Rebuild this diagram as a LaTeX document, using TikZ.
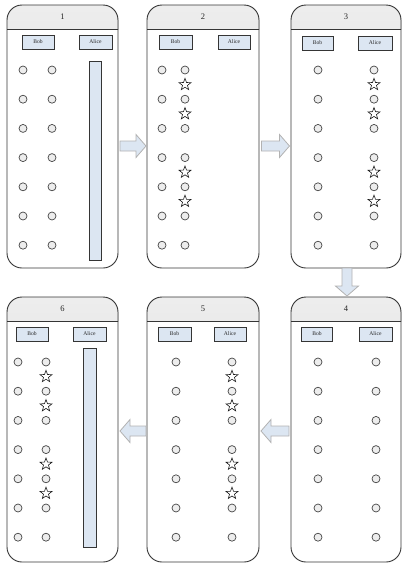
\documentclass[tikz,border=0pt]{standalone}
\usepackage{fontspec}
\setmainfont{Liberation Serif}
\usetikzlibrary{shapes.geometric}
\definecolor{boxblue}{HTML}{DCE6F2}
\definecolor{linegray}{HTML}{353535}
\tikzset{
  panelframe/.style={draw=linegray, line width=0.9pt, rounded corners=15pt},
  hdrfill/.style={top color=gray!14, bottom color=gray!36},
  namebox/.style={draw=linegray, fill=boxblue, line width=0.7pt, minimum height=14pt, inner sep=0pt, text=gray!30!black, font=\fontsize{5.6}{6}\selectfont},
  dot/.style={circle, draw=gray!55!black, fill=gray!14, line width=0.7pt, minimum size=8pt, inner sep=0pt},
  starnode/.style={star, star points=5, star point ratio=2.4, draw=gray!20!black, fill=white, line width=0.6pt, minimum size=12.5pt, inner sep=0pt},
  alicebar/.style={draw=linegray, fill=boxblue, line width=0.7pt},
  blockarrpath/.style={draw=gray!60, fill=boxblue, line width=0.8pt, line join=miter},
  hdrlabel/.style={font=\fontsize{8.5}{9}\selectfont, text=gray!30!black}
}
\newcommand\panelbox[7]{%
  \begin{scope}
    \clip (#2,#4) rectangle (#3,#5);
    \fill[hdrfill, rounded corners=15pt] (#2,#4) rectangle (#3,#6);
  \end{scope}
  \draw[linegray, line width=0.9pt] (#2,#5) -- (#3,#5);
  \draw[panelframe] (#2,#4) rectangle (#3,#6);
  \node[hdrlabel] (#1) at ({(#2+#3)/2},{(#4+#5)/2}) {#7};
}
\newcommand\dotcol[3]{%
  \foreach \i in {0,...,6} { \node[dot] (#3\i) at (#1,{#2+29.2*\i}) {}; }
}
\newcommand\starcol[3]{%
  \foreach \i/\k in {0/a,1/b,3/c,4/d} { \node[starnode] (#3\k) at (#1,{#2+29.2*\i+14.6}) {}; }
}
% block arrow: name, x, y, rotation, half length
\newcommand\blockarrow[5]{%
  \begin{scope}[shift={(#2,#3)}, rotate=#4]
    \draw[blockarrpath] (-#5,-5) -- ({#5-10},-5) -- ({#5-10},-11.5) -- (#5,0)
      -- ({#5-10},11.5) -- ({#5-10},5) -- (-#5,5) -- cycle;
    \coordinate (#1) at (0,0);
  \end{scope}
}
\begin{document}
\begin{tikzpicture}[x=1pt,y=-1pt]
\useasboundingbox (0,0) rectangle (405,566);
% panels
\panelbox{h1}{7}{118}{5}{29}{268}{1}
\panelbox{h2}{147}{259}{5}{29}{268}{2}
\panelbox{h3}{291}{401}{5}{29}{268}{3}
\panelbox{h4}{291}{401}{297}{321}{562}{4}
\panelbox{h5}{147}{259}{297}{321}{562}{5}
\panelbox{h6}{7}{118}{297}{321}{562}{6}
% name boxes
\node[namebox, minimum width=32pt] (bob1) at (38,42) {Bob};
\node[namebox, minimum width=33pt] (ali1) at (95.5,42) {Alice};
\node[namebox, minimum width=33pt] (bob2) at (175.5,42) {Bob};
\node[namebox, minimum width=32pt] (ali2) at (234,42) {Alice};
\node[namebox, minimum width=31pt] (bob3) at (317.5,43) {Bob};
\node[namebox, minimum width=34pt] (ali3) at (375,43) {Alice};
\node[namebox, minimum width=31pt] (bob4) at (317,334) {Bob};
\node[namebox, minimum width=33pt] (ali4) at (375.5,334) {Alice};
\node[namebox, minimum width=33pt] (bob5) at (174.5,334) {Bob};
\node[namebox, minimum width=32pt] (ali5) at (230,334) {Alice};
\node[namebox, minimum width=32pt] (bob6) at (32,334) {Bob};
\node[namebox, minimum width=33pt] (ali6) at (89.5,334) {Alice};
% panel 1
\dotcol{23}{70}{pa}
\dotcol{52}{70}{pb}
\draw[alicebar] (89,61) rectangle (101,260);
% panel 2
\dotcol{162}{70}{qa}
\dotcol{185}{70}{qb}
\starcol{185}{70}{qs}
% panel 3
\dotcol{318}{70}{ra}
\dotcol{374}{70}{rb}
\starcol{374}{70}{rs}
% panel 4
\dotcol{318}{362}{sa}
\dotcol{376}{362}{sb}
% panel 5
\dotcol{176}{362}{ta}
\dotcol{232}{362}{tb}
\starcol{232}{362}{ts}
% panel 6
\dotcol{18}{362}{ua}
\dotcol{46}{362}{ub}
\starcol{46}{362}{us}
\draw[alicebar] (83,348) rectangle (96,547);
% block arrows
\blockarrow{a12}{133}{146}{0}{13}
\blockarrow{a23}{275.5}{146}{0}{14}
\blockarrow{a34}{347}{282}{-90}{14}
\blockarrow{a45}{275}{431}{180}{14}
\blockarrow{a56}{133}{431}{180}{13}
\end{tikzpicture}
\end{document}
